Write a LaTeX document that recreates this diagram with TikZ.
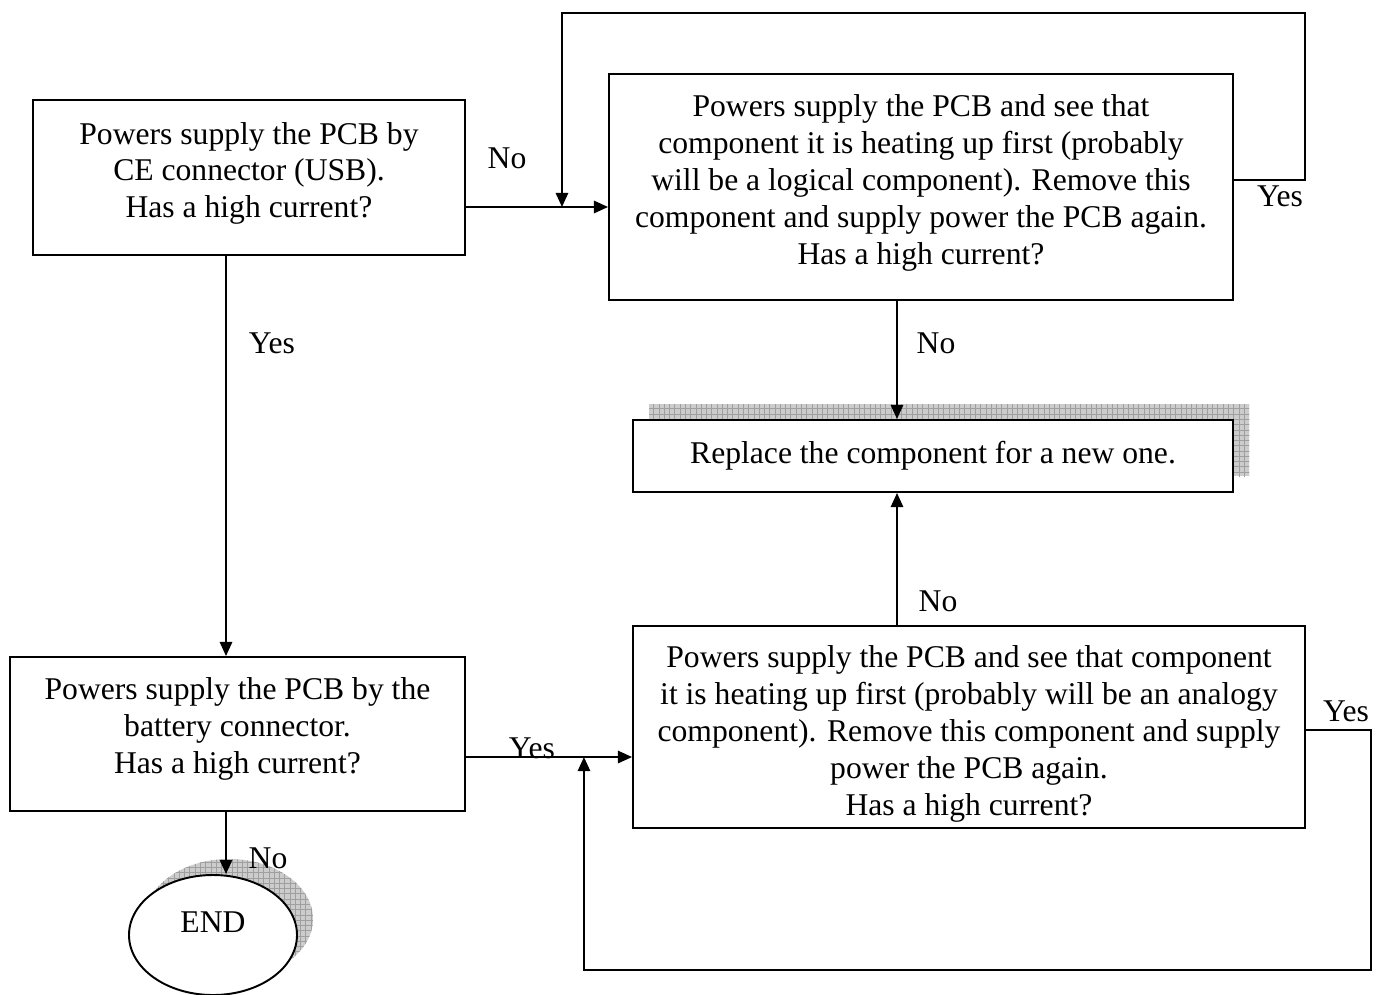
\documentclass[tikz,border=0pt]{standalone}
\usepackage{fontspec}
\setmainfont{Liberation Serif}
\usetikzlibrary{positioning,arrows.meta,shadows,patterns,shapes.geometric}

\begin{document}
\begin{tikzpicture}[line width=1.1pt, >={Triangle[length=8pt,width=7pt]},
    every node/.style={font=\fontsize{18}{21}\selectfont},
    box/.style={draw, fill=white, rectangle, align=center, inner sep=0pt},
    shadebox/.style={general shadow={shadow xshift=.32cm, shadow yshift=.32cm, fill=gray!40},
        general shadow={shadow xshift=.32cm, shadow yshift=.32cm, pattern=grid, pattern color=gray!75}},
    tag/.style={inner sep=0pt}]
            \useasboundingbox (0,0) rectangle (27.6,-19.88);

            % Nodes
            \node[box, minimum width=8.64cm, minimum height=3.1cm, text depth=.3cm] (usb) at (4.98,-3.55)
                {Powers supply the PCB by\\CE connector (USB).\\Has a high current?};
            \node[box, minimum width=12.48cm, minimum height=4.52cm, text depth=.3cm] (logic) at (18.42,-3.74)
                {Powers supply the PCB and see that\\component it is heating up first (probably\\will be a logical component). Remove this\\component and supply power the PCB again.\\Has a high current?};
            \node[box, shadebox, minimum width=12cm, minimum height=1.44cm] (replace) at (18.66,-9.12)
                {Replace the component for a new one.};
            \node[box, minimum width=9.1cm, minimum height=3.08cm, text depth=.34cm] (battery) at (4.75,-14.68)
                {Powers supply the PCB by the\\battery connector.\\Has a high current?};
            \node[box, minimum width=13.44cm, minimum height=4.04cm, text height=3.66cm] (analog) at (19.38,-14.54)
                {Powers supply the PCB and see that component\\it is heating up first (probably will be an analogy\\component). Remove this component and supply\\power the PCB again.\\Has a high current?};
            \node[box, shadebox, ellipse, minimum width=3.36cm, minimum height=2.4cm, text depth=.5cm] (end) at (4.26,-18.7) {END};

            % Connector points
            \coordinate (ab) at ([yshift=-.59cm]usb.east);
            \coordinate (abj) at ([xshift=1.92cm]ab);
            \coordinate (cd) at ([yshift=-.46cm]battery.east);
            \coordinate (cdj) at ([xshift=2.36cm]cd);
            \coordinate (ac) at ([xshift=-.46cm]usb.south);
            \coordinate (ce) at ([xshift=-.23cm]battery.south);
            \coordinate (lr) at ([xshift=-.48cm]logic.south);
            \coordinate (ar) at ([xshift=-1.44cm]analog.north);

            % Edges
            \draw[->] (ab) -- (ab -| logic.west);
            \draw[->] ([yshift=.14cm]logic.east) -- ++(1.42,0) |- ([yshift=3.88cm]abj) -- (abj);
            \draw[->] (lr) -- (lr |- replace.north);
            \draw[->] (ac) -- (ac |- battery.north);
            \draw[->] (cd) -- (cd -| analog.west);
            \draw[->] ([yshift=-.06cm]analog.east) -- ++(1.3,0) |- ([yshift=-4.26cm]cdj) -- (cdj);
            \draw[->] (ar) -- (ar |- replace.south);
            \draw[->] (ce) -- (ce |- end.north);

            % Labels
            \node[tag] (no1) at (10.14,-3.16) {No};
            \node[tag] (yes1) at (25.6,-3.92) {Yes};
            \node[tag] (yes2) at (5.44,-6.86) {Yes};
            \node[tag] (no2) at (18.72,-6.86) {No};
            \node[tag] (no3) at (18.76,-12.02) {No};
            \node[tag] (yes3) at (10.64,-14.96) {Yes};
            \node[tag] (yes4) at (26.92,-14.22) {Yes};
            \node[tag] (no4) at (5.36,-17.16) {No};
        \end{tikzpicture}
\end{document}
